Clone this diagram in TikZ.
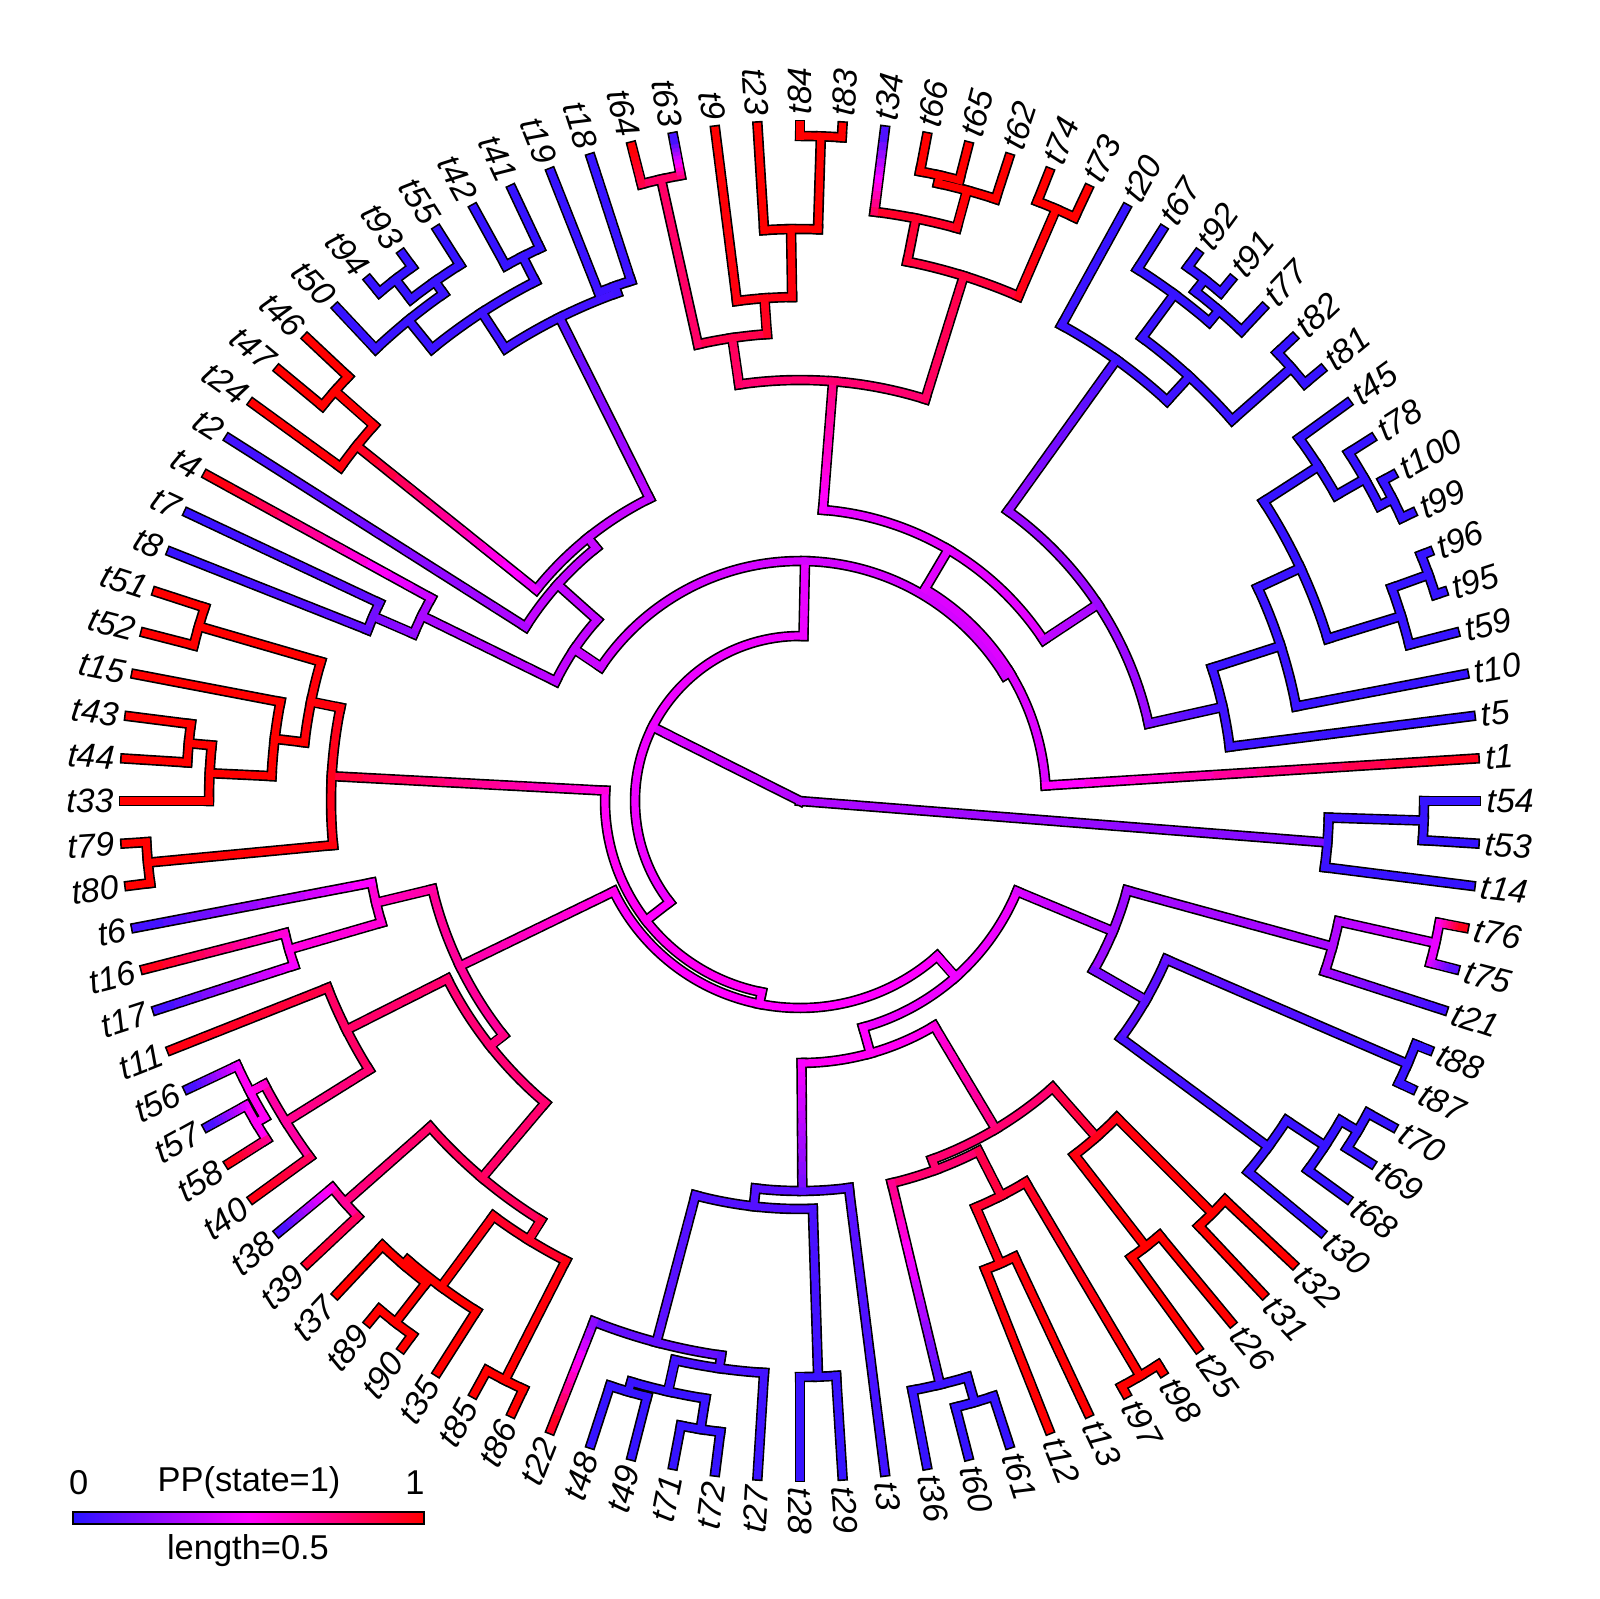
\documentclass[tikz,border=0pt]{standalone}
\usepackage{fontspec}
\newfontfamily\tipfont{Liberation Sans}
\definecolor{ppB}{rgb}{0.16,0.08,1}
\definecolor{ppM}{rgb}{1,0,1}
\definecolor{ppR}{rgb}{1,0,0}
\tikzset{
  treeline/.style={line width=0.105cm, black, line cap=rect},
  treefill/.style={line width=0.072cm, line cap=rect},
  tiplab/.style={font=\tipfont\itshape\fontsize{9.6}{11}\selectfont, inner sep=0pt},
  leglab/.style={font=\tipfont\fontsize{9.8}{11}\selectfont, inner sep=0pt}
}
\newif\ifoutline
\def\Rt{6.76}
\def\Rl{6.86}
% colour for a posterior probability 0..1 (blue - magenta - red)
\newcommand\ppset[1]{%
  \pgfmathsetmacro\ppv{max(0,min(1,#1))}%
  \ifdim\ppv pt<0.5pt
    \pgfmathsetmacro\ppt{2*\ppv}%
    \pgfmathsetmacro\ppr{0.16+0.84*\ppt}%
    \pgfmathsetmacro\ppg{0.08*(1-\ppt)}%
    \definecolor{ppcur}{rgb}{\ppr,\ppg,1}%
  \else
    \pgfmathsetmacro\ppt{2*\ppv-1}%
    \pgfmathsetmacro\ppb{1-\ppt}%
    \definecolor{ppcur}{rgb}{1,0,\ppb}%
  \fi}
% radial branch: angle, inner r, outer r, pp inner, pp outer
\newcommand\Stem[5]{%
  \ifoutline
    \draw[treeline] (#1:#2) -- (#1:#3);
  \else
    \ifdim #4pt=#5pt
      \ppset{#4}\draw[treefill, ppcur] (#1:#2) -- (#1:#3);
    \else
      \foreach \s in {0,...,9}{%
        \pgfmathsetmacro\ra{#2+(#3-#2)*\s/10}%
        \pgfmathsetmacro\rb{#2+(#3-#2)*(\s+1)/10}%
        \ppset{#4+(#5-#4)*(\s+0.5)/10}%
        \draw[treefill, ppcur] (#1:\ra) -- (#1:\rb);
      }%
    \fi
  \fi}
\newcommand\Tip[4]{\Stem{#1}{#2}{\Rt}{#3}{#4}}
% arc of a node: radius, from angle, to angle, pp
\newcommand\Fork[4]{%
  \ifoutline
    \draw[treeline] (#2:#1) arc[start angle=#2, end angle=#3, radius=#1];
  \else
    \ppset{#4}\draw[treefill, ppcur] (#2:#1) arc[start angle=#2, end angle=#3, radius=#1];
  \fi}
\newcommand\treebody{%
  % t54 t53 t14
  \Stem{355.5}{0}{5.29}{0.32}{0.2}
  \Fork{5.29}{352.8}{358.2}{0.05}
  \Stem{358.2}{5.29}{6.24}{0.05}{0.04}
  \Fork{6.24}{356.4}{360}{0.03}
  \Tip{360}{6.24}{0.03}{0.03}
  \Tip{356.4}{6.24}{0.03}{0.03}
  \Tip{352.8}{5.29}{0.04}{0.03}
  % rest of the tree
  \Stem{153.3}{0}{1.65}{0.32}{0.42}
  \Fork{1.65}{88.8}{217.81}{0.46}
  \Stem{88.8}{1.65}{2.40}{0.46}{0.44}
  \Fork{2.40}{31.54}{146.07}{0.4}
  \Stem{146.07}{2.40}{2.72}{0.38}{0.37}
  \Fork{2.72}{138.24}{153.9}{0.36}
  \Stem{138.24}{2.72}{3.25}{0.36}{0.36}
  \Fork{3.25}{128.87}{147.6}{0.36}
  \Tip{147.6}{3.25}{0.32}{0.05}
  \Stem{128.87}{3.25}{3.38}{0.37}{0.37}
  \Fork{3.38}{116.44}{141.3}{0.37}
  % t18 ... t50
  \Stem{116.44}{3.38}{5.40}{0.36}{0.1}
  \Fork{5.40}{109.8}{123.075}{0.06}
  \Stem{109.8}{5.40}{5.47}{0.05}{0.05}
  \Fork{5.47}{108}{111.6}{0.05}
  \Tip{108}{5.47}{0.05}{0.03}
  \Tip{111.6}{5.47}{0.05}{0.03}
  \Stem{123.075}{5.40}{5.83}{0.05}{0.05}
  \Fork{5.83}{117}{129.15}{0.05}
  \Stem{117}{5.83}{6.11}{0.04}{0.04}
  \Fork{6.11}{115.2}{118.8}{0.04}
  \Tip{115.2}{6.11}{0.03}{0.03}
  \Tip{118.8}{6.11}{0.03}{0.03}
  \Stem{129.15}{5.83}{6.20}{0.04}{0.04}
  \Fork{6.20}{125.1}{133.2}{0.04}
  \Tip{133.2}{6.20}{0.04}{0.03}
  \Stem{125.1}{6.20}{6.35}{0.04}{0.04}
  \Fork{6.35}{122.4}{127.8}{0.04}
  \Tip{122.4}{6.35}{0.03}{0.03}
  \Stem{127.8}{6.35}{6.60}{0.03}{0.03}
  \Fork{6.60}{126}{129.6}{0.03}
  \Tip{126}{6.60}{0.03}{0.03}
  \Tip{129.6}{6.60}{0.03}{0.03}
  % t24 t46 t47
  \Stem{141.3}{3.38}{5.68}{0.42}{0.95}
  \Fork{5.68}{138.6}{144}{0.97}
  \Tip{144}{5.68}{0.98}{1}
  \Stem{138.6}{5.68}{6.20}{0.98}{1}
  \Fork{6.20}{136.8}{140.4}{1}
  \Tip{136.8}{6.20}{1}{1}
  \Tip{140.4}{6.20}{1}{1}
  % t4 t7 t8
  \Stem{153.9}{2.72}{4.21}{0.35}{0.3}
  \Fork{4.21}{151.2}{156.6}{0.3}
  \Tip{151.2}{4.21}{0.35}{1}
  \Stem{156.6}{4.21}{4.65}{0.25}{0.2}
  \Fork{4.65}{154.8}{158.4}{0.17}
  \Tip{154.8}{4.65}{0.14}{0.03}
  \Tip{158.4}{4.65}{0.14}{0.03}
  % t1 and the upper right
  \Stem{31.54}{2.40}{2.46}{0.4}{0.4}
  \Fork{2.46}{3.6}{59.475}{0.42}
  \Tip{3.6}{2.46}{0.48}{0.97}
  \Stem{59.475}{2.46}{2.92}{0.43}{0.43}
  \Fork{2.92}{33.45}{85.5}{0.44}
  \Stem{85.5}{2.92}{4.21}{0.47}{0.75}
  \Fork{4.21}{72.675}{98.325}{0.78}
  \Stem{98.325}{4.21}{4.68}{0.8}{0.82}
  \Fork{4.68}{94.05}{102.6}{0.85}
  \Stem{102.6}{4.68}{6.37}{0.8}{0.8}
  \Fork{6.37}{100.8}{104.4}{0.8}
  \Tip{104.4}{6.37}{0.85}{1}
  \Tip{100.8}{6.37}{0.8}{0.03}
  \Stem{94.05}{4.68}{5.04}{0.92}{0.95}
  \Fork{5.04}{90.9}{97.2}{0.96}
  \Tip{97.2}{5.04}{0.97}{1}
  \Stem{90.9}{5.04}{5.72}{0.97}{1}
  \Fork{5.72}{88.2}{93.6}{1}
  \Tip{93.6}{5.72}{1}{1}
  \Stem{88.2}{5.72}{6.65}{1}{1}
  \Fork{6.65}{86.4}{90}{1}
  \Tip{90}{6.65}{1}{1}
  \Tip{86.4}{6.65}{1}{1}
  \Stem{72.675}{4.21}{5.50}{0.8}{0.86}
  \Fork{5.50}{66.6}{78.75}{0.88}
  \Stem{78.75}{5.50}{5.94}{0.9}{0.9}
  \Fork{5.94}{74.7}{82.8}{0.92}
  \Tip{82.8}{5.94}{0.85}{0.05}
  \Stem{74.7}{5.94}{6.33}{0.95}{1}
  \Fork{6.33}{72}{77.4}{1}
  \Tip{72}{6.33}{1}{1}
  \Stem{77.4}{6.33}{6.41}{1}{1}
  \Fork{6.41}{75.6}{79.2}{1}
  \Tip{75.6}{6.41}{1}{1}
  \Tip{79.2}{6.41}{1}{1}
  \Stem{66.6}{5.50}{6.45}{0.95}{1}
  \Fork{6.45}{64.8}{68.4}{1}
  \Tip{64.8}{6.45}{1}{1}
  \Tip{68.4}{6.45}{1}{1}
  \Stem{33.45}{2.92}{3.57}{0.36}{0.3}
  \Fork{3.57}{12.54}{54.35}{0.27}
  \Stem{54.35}{3.57}{5.43}{0.26}{0.08}
  \Fork{5.43}{47.475}{61.2}{0.05}
  \Tip{61.2}{5.43}{0.05}{0.03}
  \Stem{47.475}{5.43}{5.76}{0.05}{0.05}
  \Fork{5.76}{41.4}{53.55}{0.04}
  \Stem{41.4}{5.76}{6.55}{0.04}{0.04}
  \Fork{6.55}{39.6}{43.2}{0.03}
  \Tip{39.6}{6.55}{0.03}{0.03}
  \Tip{43.2}{6.55}{0.03}{0.03}
  \Stem{53.55}{5.76}{6.30}{0.04}{0.04}
  \Fork{6.30}{49.5}{57.6}{0.03}
  \Tip{57.6}{6.30}{0.03}{0.03}
  \Stem{49.5}{6.30}{6.45}{0.03}{0.03}
  \Fork{6.45}{46.8}{52.2}{0.03}
  \Tip{46.8}{6.45}{0.03}{0.03}
  \Stem{52.2}{6.45}{6.60}{0.03}{0.03}
  \Fork{6.60}{50.4}{54}{0.03}
  \Tip{50.4}{6.60}{0.03}{0.03}
  \Tip{54}{6.60}{0.03}{0.03}
  \Stem{12.54}{3.57}{4.33}{0.2}{0.06}
  \Fork{4.33}{7.2}{17.89}{0.05}
  \Tip{7.2}{4.33}{0.05}{0.03}
  \Stem{17.89}{4.33}{5.05}{0.04}{0.04}
  \Fork{5.05}{10.8}{24.975}{0.04}
  \Tip{10.8}{5.05}{0.04}{0.03}
  \Stem{24.975}{5.05}{5.52}{0.04}{0.04}
  \Fork{5.52}{17.1}{32.85}{0.03}
  \Stem{32.85}{5.52}{6.17}{0.03}{0.03}
  \Fork{6.17}{29.7}{36}{0.03}
  \Tip{36}{6.17}{0.03}{0.03}
  \Stem{29.7}{6.17}{6.50}{0.03}{0.03}
  \Fork{6.50}{27}{32.4}{0.03}
  \Tip{32.4}{6.50}{0.03}{0.03}
  \Stem{27}{6.50}{6.65}{0.03}{0.03}
  \Fork{6.65}{25.2}{28.8}{0.03}
  \Tip{25.2}{6.65}{0.03}{0.03}
  \Tip{28.8}{6.65}{0.03}{0.03}
  \Stem{17.1}{5.52}{6.29}{0.03}{0.03}
  \Fork{6.29}{14.4}{19.8}{0.03}
  \Tip{14.4}{6.29}{0.03}{0.03}
  \Stem{19.8}{6.29}{6.68}{0.03}{0.03}
  \Fork{6.68}{18}{21.6}{0.03}
  \Tip{18}{6.68}{0.03}{0.03}
  \Tip{21.6}{6.68}{0.03}{0.03}
  % lower half
  \Stem{217.81}{1.65}{1.95}{0.5}{0.5}
  \Fork{1.95}{176.96}{258.67}{0.52}
  \Stem{176.96}{1.95}{4.69}{0.55}{0.9}
  \Fork{4.69}{168.525}{185.4}{0.95}
  \Stem{168.525}{4.69}{4.99}{0.97}{0.98}
  \Fork{4.99}{163.8}{173.25}{0.98}
  \Stem{163.8}{4.99}{6.26}{1}{1}
  \Fork{6.26}{162}{165.6}{1}
  \Tip{162}{6.26}{1}{1}
  \Tip{165.6}{6.26}{1}{1}
  \Stem{173.25}{4.99}{5.29}{1}{1}
  \Fork{5.29}{169.2}{177.3}{1}
  \Tip{169.2}{5.29}{1}{1}
  \Stem{177.3}{5.29}{5.91}{1}{1}
  \Fork{5.91}{174.6}{180}{1}
  \Tip{180}{5.91}{1}{1}
  \Stem{174.6}{5.91}{6.14}{1}{1}
  \Fork{6.14}{172.8}{176.4}{1}
  \Tip{172.8}{6.14}{1}{1}
  \Tip{176.4}{6.14}{1}{1}
  \Stem{185.4}{4.69}{6.55}{0.98}{1}
  \Fork{6.55}{183.6}{187.2}{1}
  \Tip{183.6}{6.55}{1}{1}
  \Tip{187.2}{6.55}{1}{1}
  \Stem{258.67}{1.95}{2.07}{0.5}{0.5}
  \Fork{2.07}{205.9}{311.48}{0.5}
  \Stem{205.9}{2.07}{3.78}{0.53}{0.68}
  \Fork{3.78}{193.5}{218.31}{0.7}
  \Stem{193.5}{3.78}{4.36}{0.68}{0.62}
  \Fork{4.36}{190.8}{196.2}{0.58}
  \Tip{190.8}{4.36}{0.52}{0.04}
  \Stem{196.2}{4.36}{5.32}{0.58}{0.56}
  \Fork{5.32}{194.4}{198}{0.53}
  \Tip{194.4}{5.32}{0.56}{0.97}
  \Tip{198}{5.32}{0.5}{0.04}
  \Stem{218.31}{3.78}{3.95}{0.74}{0.75}
  \Fork{3.95}{206.775}{229.84}{0.77}
  \Stem{206.775}{3.95}{5.08}{0.78}{0.8}
  \Fork{5.08}{201.6}{211.95}{0.8}
  \Tip{201.6}{5.08}{0.85}{0.97}
  \Stem{211.95}{5.08}{6.06}{0.78}{0.72}
  \Fork{6.06}{207.9}{216}{0.68}
  \Tip{216}{6.06}{0.8}{0.97}
  \Stem{207.9}{6.06}{6.22}{0.6}{0.55}
  \Fork{6.22}{205.2}{210.6}{0.52}
  \Tip{205.2}{6.22}{0.48}{0.05}
  \Stem{210.6}{6.22}{6.32}{0.52}{0.52}
  \Fork{6.32}{208.8}{212.4}{0.52}
  \Tip{208.8}{6.32}{0.48}{0.05}
  \Tip{212.4}{6.32}{0.7}{0.97}
  \Stem{229.84}{3.95}{4.93}{0.78}{0.8}
  \Fork{4.93}{221.4}{238.275}{0.82}
  \Stem{221.4}{4.93}{6.07}{0.8}{0.75}
  \Fork{6.07}{219.6}{223.2}{0.7}
  \Tip{219.6}{6.07}{0.6}{0.05}
  \Tip{223.2}{6.07}{0.8}{0.92}
  \Stem{238.275}{4.93}{5.16}{0.88}{0.9}
  \Fork{5.16}{233.55}{243}{0.92}
  \Stem{233.55}{5.16}{6.04}{0.95}{1}
  \Fork{6.04}{229.5}{237.6}{1}
  \Tip{237.6}{6.04}{1}{1}
  \Stem{229.5}{6.04}{6.10}{1}{1}
  \Fork{6.10}{226.8}{232.2}{1}
  \Tip{226.8}{6.10}{1}{1}
  \Stem{232.2}{6.10}{6.60}{1}{1}
  \Fork{6.60}{230.4}{234}{1}
  \Tip{230.4}{6.60}{1}{1}
  \Tip{234}{6.60}{1}{1}
  \Stem{243}{5.16}{6.50}{0.97}{1}
  \Fork{6.50}{241.2}{244.8}{1}
  \Tip{241.2}{6.50}{1}{1}
  \Tip{244.8}{6.50}{1}{1}
  \Stem{311.48}{2.07}{2.35}{0.48}{0.47}
  \Fork{2.35}{285.58}{337.39}{0.46}
  \Stem{285.58}{2.35}{2.62}{0.5}{0.5}
  \Fork{2.62}{270.34}{300.825}{0.52}
  \Stem{270.34}{2.62}{3.90}{0.5}{0.18}
  \Fork{3.90}{263.475}{277.2}{0.12}
  \Tip{277.2}{3.90}{0.12}{0.05}
  \Stem{263.475}{3.90}{4.08}{0.1}{0.1}
  \Fork{4.08}{255.15}{271.8}{0.1}
  \Stem{271.8}{4.08}{5.76}{0.08}{0.05}
  \Fork{5.76}{270}{273.6}{0.04}
  \Tip{270}{5.76}{0.04}{0.03}
  \Tip{273.6}{5.76}{0.04}{0.03}
  \Stem{255.15}{4.08}{5.60}{0.1}{0.12}
  \Fork{5.60}{248.4}{261.9}{0.14}
  \Tip{248.4}{5.60}{0.2}{0.97}
  \Stem{261.9}{5.60}{5.73}{0.1}{0.1}
  \Fork{5.73}{257.4}{266.4}{0.08}
  \Tip{266.4}{5.73}{0.06}{0.04}
  \Stem{257.4}{5.73}{6.05}{0.06}{0.05}
  \Fork{6.05}{253.8}{261}{0.04}
  \Stem{253.8}{6.05}{6.15}{0.04}{0.04}
  \Fork{6.15}{252}{255.6}{0.03}
  \Tip{252}{6.15}{0.03}{0.03}
  \Tip{255.6}{6.15}{0.03}{0.03}
  \Stem{261}{6.05}{6.36}{0.04}{0.04}
  \Fork{6.36}{259.2}{262.8}{0.03}
  \Tip{259.2}{6.36}{0.03}{0.03}
  \Tip{262.8}{6.36}{0.03}{0.03}
  \Stem{300.825}{2.62}{3.82}{0.55}{0.75}
  \Fork{3.82}{290.25}{311.4}{0.78}
  \Stem{290.25}{3.82}{3.93}{0.78}{0.78}
  \Fork{3.93}{283.5}{297}{0.78}
  \Stem{283.5}{3.93}{6.00}{0.75}{0.08}
  \Fork{6.00}{280.8}{286.2}{0.04}
  \Tip{280.8}{6.00}{0.04}{0.03}
  \Stem{286.2}{6.00}{6.26}{0.04}{0.04}
  \Fork{6.26}{284.4}{288}{0.03}
  \Tip{284.4}{6.26}{0.03}{0.03}
  \Tip{288}{6.26}{0.03}{0.03}
  \Stem{297}{3.93}{4.43}{0.84}{0.88}
  \Fork{4.43}{293.4}{300.6}{0.9}
  \Stem{293.4}{4.43}{5.04}{0.93}{0.96}
  \Fork{5.04}{291.6}{295.2}{0.97}
  \Tip{291.6}{5.04}{0.98}{1}
  \Tip{295.2}{5.04}{0.98}{1}
  \Stem{300.6}{4.43}{6.68}{0.93}{1}
  \Fork{6.68}{298.8}{302.4}{1}
  \Tip{298.8}{6.68}{1}{1}
  \Tip{302.4}{6.68}{1}{1}
  \Stem{311.4}{3.82}{4.48}{0.84}{0.9}
  \Fork{4.48}{307.8}{315}{0.95}
  \Stem{307.8}{4.48}{5.64}{0.97}{1}
  \Fork{5.64}{306}{309.6}{1}
  \Tip{306}{5.64}{1}{1}
  \Tip{309.6}{5.64}{1}{1}
  \Stem{315}{4.48}{5.83}{0.97}{1}
  \Fork{5.83}{313.2}{316.8}{1}
  \Tip{313.2}{5.83}{1}{1}
  \Tip{316.8}{5.83}{1}{1}
  \Stem{337.39}{2.35}{3.39}{0.42}{0.3}
  \Fork{3.39}{330.075}{344.7}{0.27}
  \Stem{344.7}{3.39}{5.52}{0.28}{0.3}
  \Fork{5.52}{342}{347.4}{0.32}
  \Tip{342}{5.52}{0.3}{0.05}
  \Stem{347.4}{5.52}{6.51}{0.33}{0.4}
  \Fork{6.51}{345.6}{349.2}{0.45}
  \Tip{349.2}{6.51}{0.48}{0.97}
  \Tip{345.6}{6.51}{0.45}{0.1}
  \Stem{330.075}{3.39}{3.99}{0.2}{0.18}
  \Fork{3.99}{323.55}{336.6}{0.12}
  \Stem{336.6}{3.99}{6.62}{0.15}{0.05}
  \Fork{6.62}{334.8}{338.4}{0.04}
  \Tip{334.8}{6.62}{0.04}{0.03}
  \Tip{338.4}{6.62}{0.04}{0.03}
  \Stem{323.55}{3.99}{5.82}{0.08}{0.05}
  \Fork{5.82}{320.4}{326.7}{0.04}
  \Tip{320.4}{5.82}{0.04}{0.03}
  \Stem{326.7}{5.82}{6.28}{0.04}{0.04}
  \Fork{6.28}{324}{329.4}{0.03}
  \Tip{324}{6.28}{0.03}{0.03}
  \Stem{329.4}{6.28}{6.48}{0.03}{0.03}
  \Fork{6.48}{327.6}{331.2}{0.03}
  \Tip{327.6}{6.48}{0.03}{0.03}
  \Tip{331.2}{6.48}{0.03}{0.03}
}
\begin{document}
\begin{tikzpicture}
  \useasboundingbox (0,0) rectangle (16,15.98);
  \begin{scope}[shift={(8.00,7.97)}]
    \outlinetrue\treebody
    \outlinefalse\treebody
    \foreach \lab [count=\k from 0] in {t54,t53,t14,t76,t75,t21,t88,t87,t70,t69,t68,t30,t32,t31,t26,t25,t98,t97,t13,t12,t61,t60,t36,t3,t29,t28,t27,t72,t71,t49,t48,t22,t86,t85,t35,t90,t89,t37,t39,t38,t40,t58,t57,t56,t11,t17,t16,t6,t80,t79,t33,t44,t43,t15,t52,t51,t8,t7,t4,t2,t24,t47,t46,t50,t94,t93,t55,t42,t41,t19,t18,t64,t63,t9,t23,t84,t83,t34,t66,t65,t62,t74,t73,t20,t67,t92,t91,t77,t82,t81,t45,t78,t100,t99,t96,t95,t59,t10,t5,t1}{
      \pgfmathsetmacro\ang{-3.6*\k}
      \ifnum\k<26
        \node[tiplab, anchor=west, rotate=\ang] (\lab) at (\ang:\Rl) {\lab};
      \else\ifnum\k>74
        \node[tiplab, anchor=west, rotate=\ang] (\lab) at (\ang:\Rl) {\lab};
      \else
        \node[tiplab, anchor=east, rotate=\ang+180] (\lab) at (\ang:\Rl) {\lab};
      \fi\fi
    }
  \end{scope}
  % legend
  \node[draw=black, line width=0.5pt, minimum width=3.51cm, minimum height=0.12cm, inner sep=0pt,
        left color=ppB, right color=ppR, middle color=ppM] (ppbar) at (2.485,0.80) {};
  \node[leglab] (lzero) at (0.786,1.15) {0};
  \node[leglab] (ltitle) at (2.49,1.15) {PP(state=1)};
  \node[leglab] (lone) at (4.15,1.15) {1};
  \node[leglab] (llength) at (2.48,0.475) {length=0.5};
\end{tikzpicture}
\end{document}
